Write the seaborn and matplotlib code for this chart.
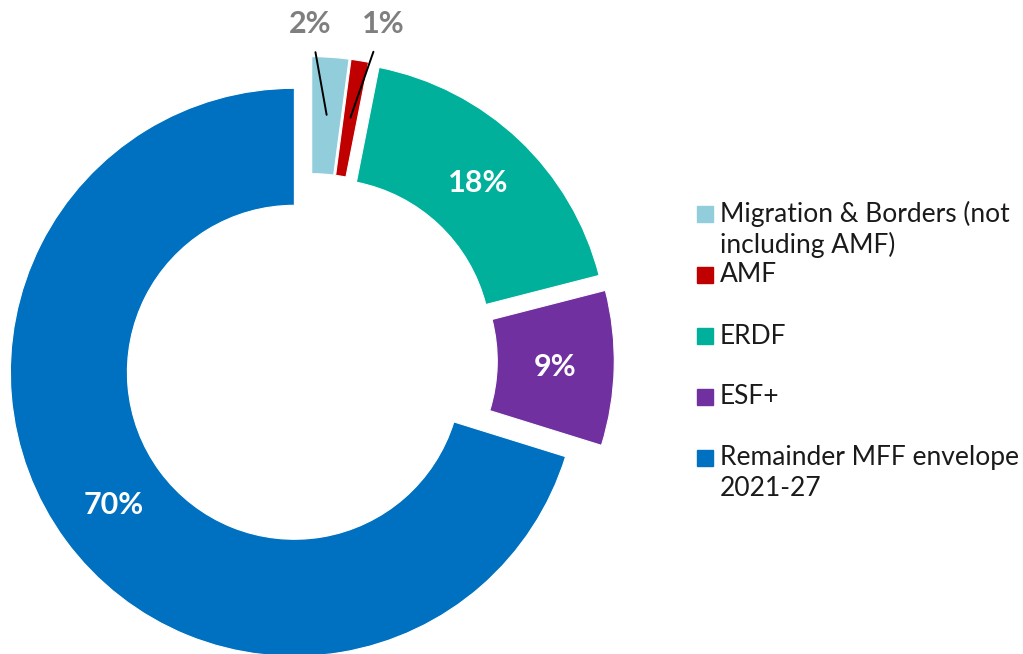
import numpy as np
import seaborn as sns
import matplotlib.pyplot as plt
from matplotlib.patches import Rectangle

# Shares of the MFF envelope 2021-27 (%)
categories = ['Migration & Borders (not\nincluding AMF)', 'AMF', 'ERDF', 'ESF+',
              'Remainder MFF envelope\n2021-27']
shares = [2.1, 1.0, 17.9, 8.8, 70.2]
colors = ['#92CDDC', '#C00000', '#00B09B', '#7030A0', '#0070C0']
explode = [0.07, 0.07, 0.07, 0.07, 0.07]

sns.set_theme(style="white")
plt.rcParams['font.family'] = ['Lato', 'DejaVu Sans']

W, H = 1023, 654
fig = plt.figure(figsize=(W / 100, H / 100), dpi=100)
ax = fig.add_axes([0, 0, 1, 1])

cx, cy, R = 310.4, 360.5, 284  # pixel centre and radius of the ring

wedges, texts, autotexts = ax.pie(
    shares, colors=colors, explode=explode, startangle=90, counterclock=False,
    radius=1, wedgeprops=dict(width=0.412, edgecolor='white', linewidth=0.8),
    autopct=lambda p: f'{p:.0f}%', pctdistance=0.79,
    textprops=dict(color='white', fontsize=22, fontweight='bold'))

# small slices get outside labels with leader lines
for i, t in enumerate(autotexts):
    if shares[i] < 5:
        t.set_visible(False)

cum = np.cumsum([0] + shares)
total = sum(shares)
label_pos = {0: (0.0, 1.185), 1: (0.256, 1.185)}
for i, (tx, ty) in label_pos.items():
    mid = np.deg2rad(90 - (cum[i] + shares[i] / 2) / total * 360)
    r = 0.867
    ax.annotate(f'{shares[i]:.0f}%', xy=(r * np.cos(mid), r * np.sin(mid)),
                xytext=(tx, ty), ha='center', va='center', color='#7F7F7F',
                fontsize=22, fontweight='bold',
                arrowprops=dict(arrowstyle='-', color='black', lw=1.4,
                                shrinkA=8, shrinkB=0))

ax.set_xlim(-cx / R, (W - cx) / R)
ax.set_ylim(-(H - cy) / R, cy / R)
ax.set_aspect('auto')
ax.axis('off')

# legend, handle aligned with the first line of each label
leg_y = [214, 275, 336, 397, 458]
for label, col, y in zip(categories, colors, leg_y):
    fig.patches.append(Rectangle((697 / W, 1 - (y + 8) / H), 16 / W, 16 / H,
                                 transform=fig.transFigure, color=col))
    for k, line in enumerate(label.split('\n')):
        fig.text(720 / W, 1 - (y + 31 * k) / H, line, ha='left', va='center',
                 fontsize=19, color='#1A1A1A')

fig.savefig('out.png', dpi=100)
